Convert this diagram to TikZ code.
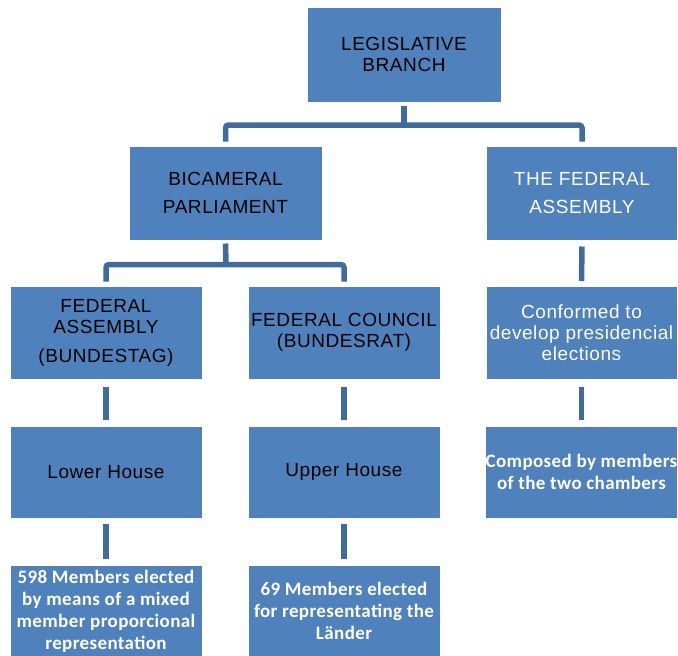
\documentclass[tikz,border=0pt]{standalone}
\usepackage{fontspec}
\setmainfont{Liberation Sans}[LetterSpace=3]
\newfontfamily\boldfont{Carlito}[BoldFont=* Bold,LetterSpace=2]
\definecolor{boxblue}{HTML}{4F81BD}
\definecolor{connblue}{HTML}{3F6B9E}
\tikzset{
  box/.style={fill=boxblue, draw=white, line width=1pt, minimum width=192pt, minimum height=93pt, inner sep=0pt, align=center, font=\fontsize{19}{21}\selectfont},
  darktext/.style={text=black},
  lighttext/.style={text=white},
  boldtext/.style={text=white, font=\boldfont\bfseries\fontsize{19}{22}\selectfont},
  conn/.style={draw=connblue, line width=5.5pt, rounded corners=3pt}
}
\begin{document}
\begin{tikzpicture}[x=1pt,y=-1pt]
\useasboundingbox (0,0) rectangle (678,656);
\begin{scope}
\clip (0,0) rectangle (678,656);
% nodes
\node[box,darktext,minimum width=194pt,minimum height=95pt] (top) at (404,54.5) {LEGISLATIVE\\BRANCH};
\node[box,darktext,minimum width=193pt,minimum height=94pt,font=\fontsize{19}{28}\selectfont] (bic) at (225.5,193) {BICAMERAL\\PARLIAMENT};
\node[box,lighttext,minimum width=191pt,minimum height=94pt,font=\fontsize{19}{28}\selectfont] (tfa) at (582,193) {THE FEDERAL\\ASSEMBLY};
\node[box,darktext] (fa) at (106,332.5) {FEDERAL\\ASSEMBLY\\[8pt](BUNDESTAG)};
\node[box,darktext] (fc) at (344,332.5) {FEDERAL COUNCIL\\(BUNDESRAT)};
\node[box,lighttext,minimum width=191pt] (conf) at (581.5,333) {Conformed to\\develop presidencial\\elections};
\node[box,darktext,minimum height=92pt] (lower) at (106,472) {Lower House};
\node[box,darktext,minimum height=92pt] (upper) at (344,472) {Upper House};
\node[box,boldtext,minimum width=191pt,minimum height=92pt] (comp) at (581.5,472) {Composed by members\\of the two chambers};
\node[box,boldtext,minimum height=92pt] (b598) at (106,611) {598 Members elected\\by means of a mixed\\member proporcional\\representation};
\node[box,boldtext,minimum height=92pt] (b69) at (344,611) {69 Members elected\\for representating the\\Länder};
% connectors
\coordinate (j1) at (404,125);
\coordinate (j2) at (226,264.5);
\draw[conn] ([yshift=-3pt]top.south) -- (j1);
\draw[conn] ([yshift=4pt]bic.north) |- (j1) -| ([yshift=4pt]tfa.north);
\draw[conn] ([yshift=-3pt]bic.south) -- (j2);
\draw[conn] ([yshift=4pt]fa.north) |- (j2) -| ([yshift=4pt]fc.north);
\draw[conn] ([yshift=-6pt]tfa.south) -- ([yshift=5pt]conf.north);
\draw[conn] ([yshift=-7pt]fa.south) -- ([yshift=6pt]lower.north);
\draw[conn] ([yshift=-7pt]fc.south) -- ([yshift=6pt]upper.north);
\draw[conn] ([yshift=-7pt]conf.south) -- ([yshift=6pt]comp.north);
\draw[conn] ([yshift=-5pt]lower.south) -- ([yshift=6pt]b598.north);
\draw[conn] ([yshift=-5pt]upper.south) -- ([yshift=6pt]b69.north);
\end{scope}
\end{tikzpicture}
\end{document}
